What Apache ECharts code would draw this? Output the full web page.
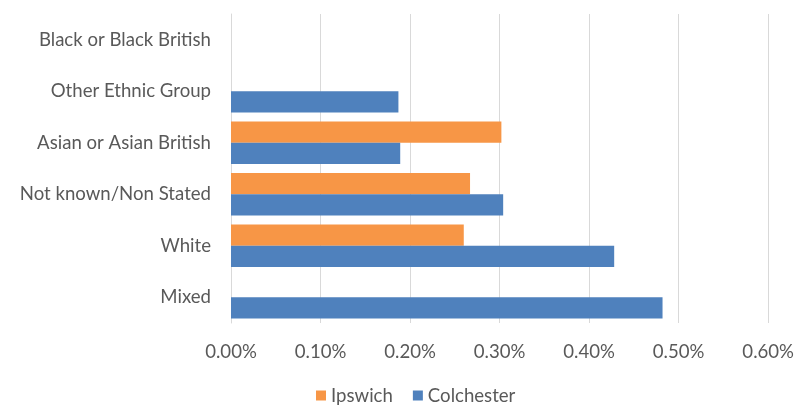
<!DOCTYPE html>
<html>
<head>
<meta charset="utf-8">
<script src="https://cdn.jsdelivr.net/npm/echarts@6/dist/echarts.min.js"></script>
<style>
  html, body { margin: 0; padding: 0; background: #fff; }
  #chart { width: 797px; height: 407px; }
</style>
</head>
<body>
<div id="chart"></div>
<script>
// Ethnic group categories, listed bottom to top
const categories = ['Mixed', 'White', 'Not known/Non Stated', 'Asian or Asian British', 'Other Ethnic Group', 'Black or Black British'];
// Shares in percent
const ipswich = [0, 0.260, 0.267, 0.302, 0, 0];
const colchester = [0.482, 0.428, 0.304, 0.189, 0.187, 0];
const xTickLabels = ['0.00%', '0.10%', '0.20%', '0.30%', '0.40%', '0.50%', '0.60%'];

const font = 'Lato, Open Sans, sans-serif';
const textSize = 18.6;
const chart = echarts.init(document.getElementById('chart'), null, { renderer: 'canvas' });
chart.setOption({
  animation: false,
  backgroundColor: '#ffffff',
  grid: { left: 231, right: 27, top: 14, bottom: 84, containLabel: false },
  legend: {
    data: ['Ipswich', 'Colchester'],
    top: 386,
    left: 316,
    padding: 0,
    icon: 'rect',
    itemWidth: 10,
    itemHeight: 10,
    itemGap: 20,
    textStyle: { color: '#595959', fontSize: textSize, fontFamily: font }
  },
  xAxis: {
    type: 'value',
    min: 0,
    max: 0.6,
    interval: 0.1,
    axisLine: { show: false },
    axisTick: { show: false },
    splitLine: { show: true, lineStyle: { color: '#d9d9d9', width: 1 } },
    axisLabel: {
      margin: 19,
      color: '#595959',
      fontSize: textSize,
      fontFamily: font,
      formatter: (v) => xTickLabels[Math.round(v * 10)]
    }
  },
  yAxis: {
    type: 'category',
    data: categories,
    axisLine: { show: true, lineStyle: { color: '#d9d9d9' } },
    axisTick: { show: false },
    axisLabel: { margin: 20, color: '#595959', fontSize: textSize, fontFamily: font }
  },
  series: [
    {
      name: 'Ipswich',
      type: 'bar',
      data: ipswich,
      barGap: '0%',
      barCategoryGap: '17%',
      itemStyle: { color: '#f79646' }
    },
    {
      name: 'Colchester',
      type: 'bar',
      data: colchester,
      barGap: '0%',
      barCategoryGap: '17%',
      itemStyle: { color: '#4f81bd' }
    }
  ]
});
</script>
</body>
</html>
